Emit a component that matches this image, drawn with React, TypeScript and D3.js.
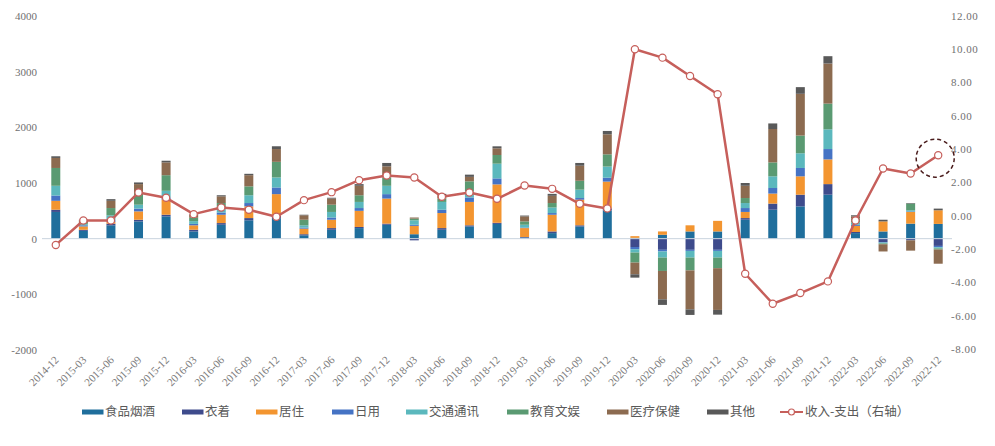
import React from "react";
import * as d3 from "d3";

const categories = ["2014-12","2015-03","2015-06","2015-09","2015-12","2016-03","2016-06","2016-09","2016-12","2017-03","2017-06","2017-09","2017-12","2018-03","2018-06","2018-09","2018-12","2019-03","2019-06","2019-09","2019-12","2020-03","2020-06","2020-09","2020-12","2021-03","2021-06","2021-09","2021-12","2022-03","2022-06","2022-09","2022-12"];

const food = [480,140,240,310,400,130,250,330,370,60,160,190,250,80,160,220,265,20,100,220,505,15,70,130,130,340,520,580,790,100,130,270,265];
const clothing = [40,20,30,30,30,30,30,40,40,20,30,20,20,-30,30,20,20,10,30,20,40,-150,-200,-200,-200,30,110,210,190,20,-60,-30,-130];
const housing = [160,60,30,150,270,80,150,210,390,100,150,290,450,150,270,420,690,160,300,460,480,30,60,110,190,110,180,330,444,110,180,210,245];
const daily = [95,20,30,50,40,25,40,60,120,20,40,50,80,20,60,80,108,10,30,30,70,-40,-30,-20,-20,70,100,150,186,20,-10,10,-25];
const transport = [175,20,90,70,120,50,80,140,180,40,100,110,150,80,140,110,264,50,100,150,200,-60,-110,-120,-120,90,210,264,354,40,-15,20,-20];
const education = [320,20,130,210,280,60,90,160,280,100,130,120,150,30,60,180,156,60,80,160,220,-180,-240,-230,-190,90,250,318,462,70,-15,120,-20];
const medical = [180,50,130,160,230,50,120,200,230,80,110,170,200,20,60,80,120,90,130,270,360,-210,-510,-700,-750,220,600,750,720,40,-130,-185,-255];
const other = [30,10,30,30,30,10,20,25,50,10,15,30,60,0,25,40,36,15,35,50,60,-60,-100,-100,-85,50,100,120,132,20,30,10,30];
const net = [-1.75,-0.28,-0.28,1.40,1.08,0.10,0.50,0.36,-0.06,0.94,1.42,2.14,2.42,2.30,1.14,1.40,1.02,1.82,1.62,0.72,0.44,10.0,9.5,8.4,7.3,-3.48,-5.28,-4.64,-3.94,-0.28,2.84,2.54,3.64];

const seriesNames = ["食品烟酒","衣着","居住","日用","交通通讯","教育文娱","医疗保健","其他"];
const seriesValues = [food, clothing, housing, daily, transport, education, medical, other];
const seriesColors = ["#1f6e9c","#3e4b8c","#f39530","#4573c4","#5bb8bd","#5a9a72","#8c6b50","#595959"];
const lineName = "收入-支出（右轴）";
const lineColor = "#c65f5b";

const leftTicks = [-2000,-1000,0,1000,2000,3000,4000];
const rightTicks = [-8,-6,-4,-2,0,2,4,6,8,10,12];

const W = 995, H = 446;

export default function App() {
  const x = d3.scaleBand<string>().domain(categories).range([42, 952]).paddingInner(0.674).paddingOuter(0.337);
  const yL = d3.scaleLinear().domain([-2000, 4000]).range([350, 16]);
  const yR = d3.scaleLinear().domain([-8, 12]).range([349, 16]);

  const rows = categories.map((c, i) => {
    const r: any = { cat: c };
    seriesNames.forEach((n, k) => { r[n] = seriesValues[k][i]; });
    return r;
  });
  const stacked = d3.stack<any>().keys(seriesNames).offset(d3.stackOffsetDiverging)(rows);

  const cx = (c: string) => (x(c) as number) + x.bandwidth() / 2;
  const linePath = d3.line<number>().x((_, i) => cx(categories[i])).y(d => yR(d))(net) as string;

  const lastI = net.length - 1;
  const lastX = cx(categories[lastI]);
  const lastY = yR(net[lastI]);

  const legendX = [82, 182, 256, 332, 406, 507, 607, 707];
  const legendY = 412;
  const numFont = "'Liberation Serif', 'DejaVu Serif', serif";
  const cjkFont = "'Noto Sans CJK SC', sans-serif";

  return (
    <svg width={W} height={H} style={{ position: "absolute", left: 0, top: 0, background: "#fff" }}>
      {stacked.map((s, k) => (
        <g key={s.key} fill={seriesColors[k]}>
          {s.map((d, i) => {
            const y0 = yL(d[0]), y1 = yL(d[1]);
            const h = Math.abs(y0 - y1);
            if (h < 0.01) return null;
            return <rect key={i} x={x(categories[i])} y={Math.min(y0, y1)} width={x.bandwidth()} height={h} />;
          })}
        </g>
      ))}
      <line x1={42} x2={952} y1={yL(0)} y2={yL(0)} stroke="#c9d3de" strokeWidth={1} />
      {leftTicks.map(t => (
        <text key={t} x={37} y={yL(t)} dy="0.35em" textAnchor="end" fontSize={11} fill="#707070" fontFamily={numFont}>{t}</text>
      ))}
      {rightTicks.map(t => (
        <text key={t} x={951} y={yR(t)} dy="0.35em" textAnchor="start" fontSize={11} fill="#707070" fontFamily={numFont} letterSpacing={0.5}>{t.toFixed(2)}</text>
      ))}
      {categories.map(c => (
        <text key={c} transform={`translate(${cx(c) + 1},${358}) rotate(-45)`} textAnchor="end" dy="0.35em" fontSize={11} fill="#7a7a7a" fontFamily={numFont}>{c}</text>
      ))}
      <path d={linePath} fill="none" stroke={lineColor} strokeWidth={2.5} strokeLinejoin="round" />
      {net.map((v, i) => (
        <circle key={i} cx={cx(categories[i])} cy={yR(v)} r={3.6} fill="#fff" stroke={lineColor} strokeWidth={1.2} />
      ))}
      <circle cx={lastX - 3} cy={lastY + 3} r={19} fill="none" stroke="#4a1c1c" strokeWidth={1.5} strokeDasharray="4,3" />
      {seriesNames.map((n, k) => (
        <g key={n}>
          <rect x={legendX[k]} y={legendY - 2.5} width={21.5} height={5} fill={seriesColors[k]} />
          <text x={legendX[k] + 23} y={legendY} dy="0.35em" fontSize={12.5} fill="#595959" fontFamily={cjkFont}>{n}</text>
        </g>
      ))}
      <g>
        <line x1={780} x2={803} y1={legendY} y2={legendY} stroke={lineColor} strokeWidth={2} />
        <circle cx={791.5} cy={legendY} r={3} fill="#fff" stroke={lineColor} strokeWidth={1.2} />
        <text x={805} y={legendY} dy="0.35em" fontSize={12.5} fill="#595959" fontFamily={cjkFont}>{lineName}</text>
      </g>
    </svg>
  );
}
